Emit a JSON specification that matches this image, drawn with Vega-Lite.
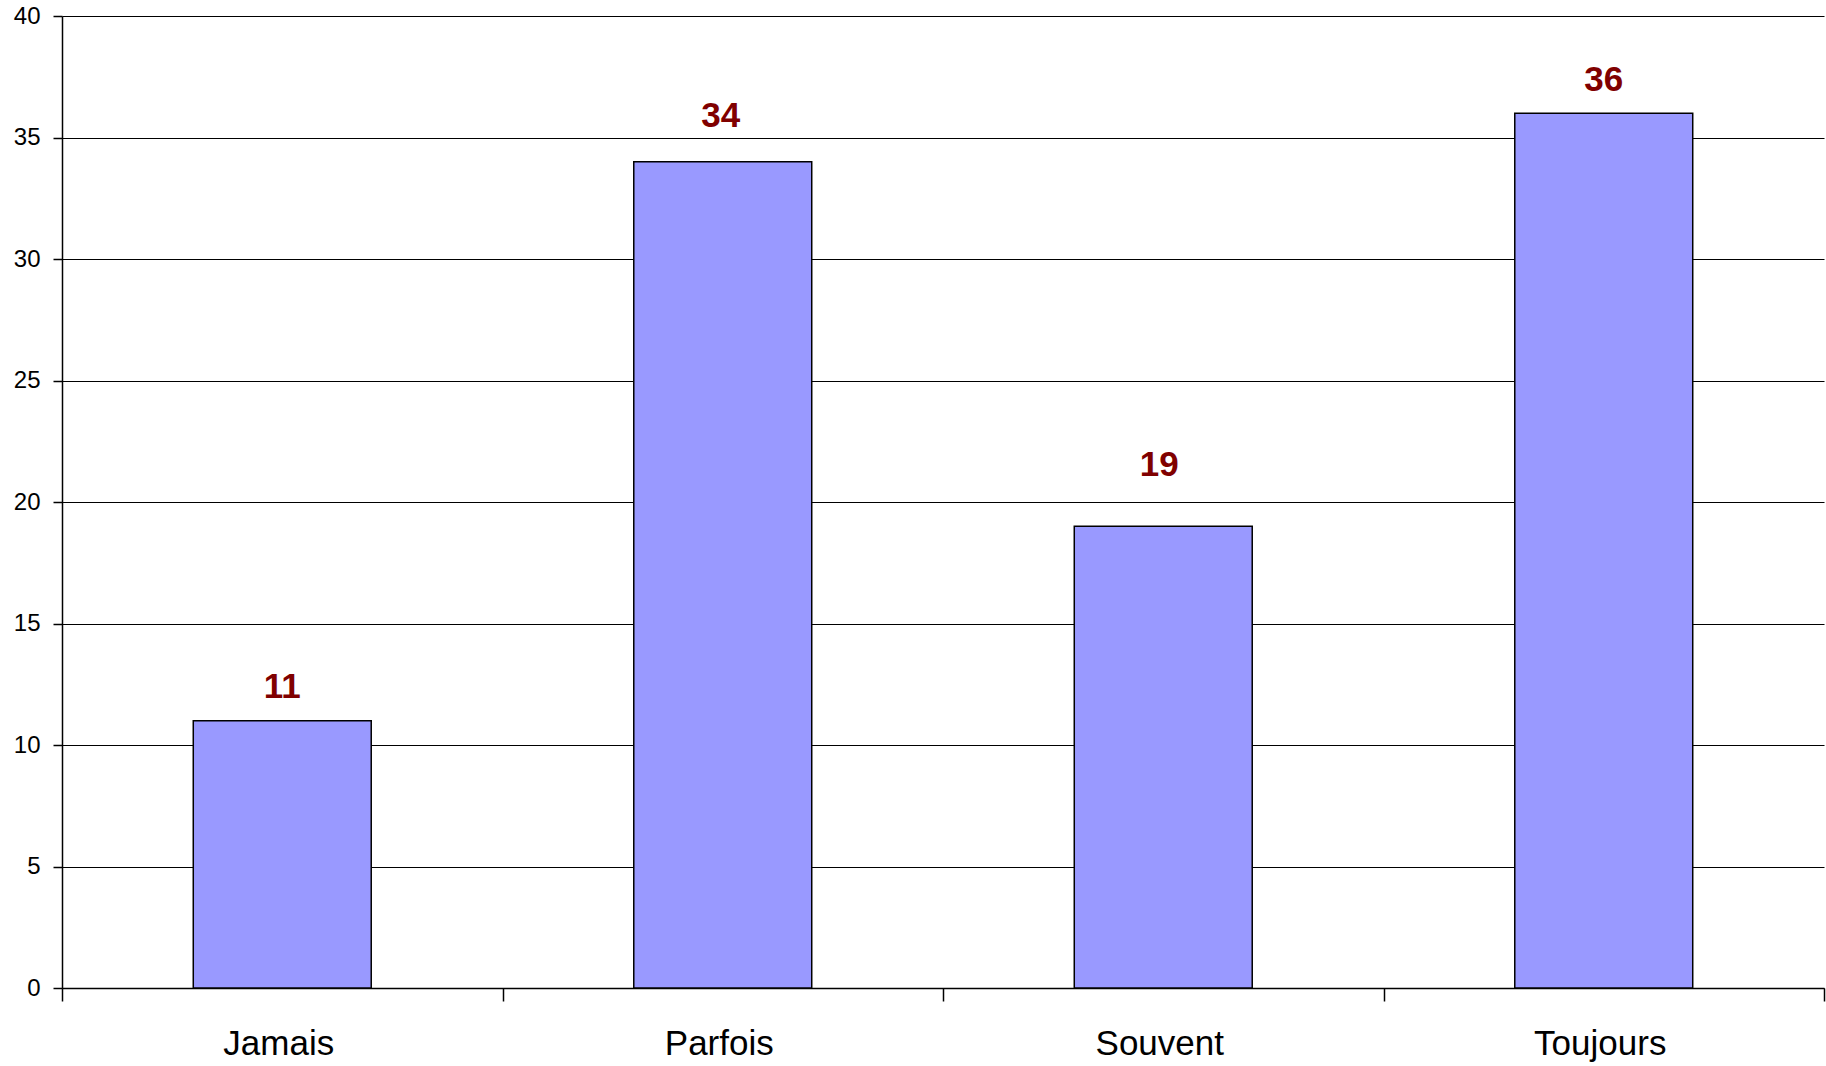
{
  "$schema": "https://vega.github.io/schema/vega-lite/v6.json",
  "width": 1762,
  "height": 972,
  "autosize": {"type": "none"},
  "padding": {"left": 62, "top": 16, "right": 2, "bottom": 78},
  "background": "white",
  "config": {
    "view": {"stroke": null},
    "font": "Liberation Sans"
  },
  "data": {
    "values": [
      {"categorie": "Jamais", "valeur": 11},
      {"categorie": "Parfois", "valeur": 34},
      {"categorie": "Souvent", "valeur": 19},
      {"categorie": "Toujours", "valeur": 36}
    ]
  },
  "encoding": {
    "x": {
      "field": "categorie",
      "type": "nominal",
      "sort": null,
      "scale": {"paddingInner": 0, "paddingOuter": 0},
      "axis": {
        "title": null,
        "labelAngle": 0,
        "labelFont": "Liberation Sans",
        "labelFontSize": 35,
        "labelColor": "black",
        "labelPadding": 25,
        "labelOffset": -4,
        "tickBand": "extent",
        "tickSize": 13,
        "tickColor": "black",
        "tickWidth": 1.5,
        "domainColor": "black",
        "domainWidth": 1.5,
        "grid": false
      }
    },
    "y": {
      "field": "valeur",
      "type": "quantitative",
      "scale": {"domain": [0, 40], "nice": false},
      "axis": {
        "title": null,
        "values": [0, 5, 10, 15, 20, 25, 30, 35, 40],
        "labelFont": "Liberation Sans",
        "labelFontSize": 24,
        "labelColor": "black",
        "labelPadding": 13,
        "tickSize": 9,
        "tickColor": "black",
        "tickWidth": 1.5,
        "domainColor": "black",
        "domainWidth": 1.5,
        "grid": true,
        "gridColor": "black",
        "gridWidth": 1.2,
        "gridOpacity": 1
      }
    }
  },
  "layer": [
    {
      "mark": {"type": "bar", "color": "#9999FF", "stroke": "black", "strokeWidth": 1.5, "width": {"band": 0.404}}
    },
    {
      "transform": [{"filter": "datum.categorie === 'Jamais'"}],
      "mark": {"type": "text", "dy": -23, "baseline": "alphabetic", "font": "Liberation Sans", "fontSize": 35, "fontWeight": "bold", "color": "#800000"},
      "encoding": {"text": {"field": "valeur", "type": "quantitative"}}
    },
    {
      "transform": [{"filter": "datum.categorie === 'Parfois'"}],
      "mark": {"type": "text", "dy": -35, "dx": -2, "baseline": "alphabetic", "font": "Liberation Sans", "fontSize": 35, "fontWeight": "bold", "color": "#800000"},
      "encoding": {"text": {"field": "valeur", "type": "quantitative"}}
    },
    {
      "transform": [{"filter": "datum.categorie === 'Souvent'"}],
      "mark": {"type": "text", "dy": -50, "dx": -4, "baseline": "alphabetic", "font": "Liberation Sans", "fontSize": 35, "fontWeight": "bold", "color": "#800000"},
      "encoding": {"text": {"field": "valeur", "type": "quantitative"}}
    },
    {
      "transform": [{"filter": "datum.categorie === 'Toujours'"}],
      "mark": {"type": "text", "dy": -22, "baseline": "alphabetic", "font": "Liberation Sans", "fontSize": 35, "fontWeight": "bold", "color": "#800000"},
      "encoding": {"text": {"field": "valeur", "type": "quantitative"}}
    }
  ]
}
